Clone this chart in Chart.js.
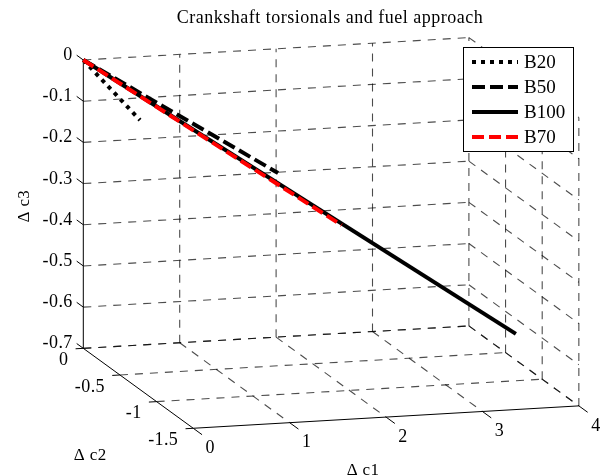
<!DOCTYPE html>
<html><head><meta charset="utf-8">
<script src="https://cdn.jsdelivr.net/npm/chart.js@4.4.0/dist/chart.umd.min.js"></script>
<style>html,body{margin:0;padding:0;background:#fff;}canvas{display:block;}</style>
</head><body>
<canvas id="c" width="605" height="476"></canvas>
<script>
// ---------- data ----------
const chartTitle = 'Crankshaft torsionals and fuel approach';
const axisTitles = ['\u0394 c1', '\u0394 c2', '\u0394 c3'];
const c1Ticks = [0, 1, 2, 3, 4];
const c2Ticks = [0, -0.5, -1, -1.5];
const c3Ticks = [0, -0.1, -0.2, -0.3, -0.4, -0.5, -0.6, -0.7];
const c1Labels = ['0', '1', '2', '3', '4'];
const c2Labels = ['0', '-0.5', '-1', '-1.5'];
const c3Labels = ['0', '-0.1', '-0.2', '-0.3', '-0.4', '-0.5', '-0.6', '-0.7'];
const seriesNames = ['B20', 'B50', 'B100', 'B70'];
const b20_c1 = [0, 0.36],  b20_c2 = [0, -0.30], b20_c3 = [0, -0.112];
const b50_c1 = [0, 1.45],  b50_c2 = [0, -0.75], b50_c3 = [0, -0.197];
const b100_c1 = [0, 3.40], b100_c2 = [0, -1.43], b100_c3 = [0, -0.526];
const b70_c1 = [0, 2.03],  b70_c2 = [0, -0.855], b70_c3 = [0, -0.318];

// ---------- view (orthographic projection of the 3-D box) ----------
const V = {ax: 96.4, bx: -73.3, ay: 5.6, by: 53.3, cz: 411.9};
const proj = (a, b, c) => ({x: V.ax * a + V.bx * b, y: V.ay * a + V.by * b + V.cz * c});
const c1Min = Math.min(...c1Ticks), c1Max = Math.max(...c1Ticks);
const c2Min = Math.min(...c2Ticks), c2Max = Math.max(...c2Ticks);
const c3Min = Math.min(...c3Ticks), c3Max = Math.max(...c3Ticks);

const datasets = [];
const seg = (p, q, style) => datasets.push(Object.assign({
  data: [proj(...p), proj(...q)], showLine: true, pointRadius: 0, tension: 0, fill: false
}, style));
const gridStyle = {borderColor: 'rgba(0,0,0,0.7)', borderWidth: 1.1, borderDash: [8, 7], order: 100};
const axisStyle = {borderColor: '#000', borderWidth: 1, order: 90};

// back wall (c2 = max)
c3Ticks.forEach(k => seg([c1Min, c2Max, k], [c1Max, c2Max, k], gridStyle));
c1Ticks.filter(j => j !== c1Min).forEach(j => seg([j, c2Max, c3Min], [j, c2Max, c3Max], gridStyle));
// right wall (c1 = max)
c3Ticks.forEach(k => seg([c1Max, c2Max, k], [c1Max, c2Min, k], gridStyle));
c2Ticks.filter(m => m !== c2Max).forEach(m => seg([c1Max, m, c3Min], [c1Max, m, c3Max], gridStyle));
// floor (c3 = min)
c1Ticks.filter(j => j !== c1Min).forEach(j => seg([j, c2Max, c3Min], [j, c2Min, c3Min], gridStyle));
c2Ticks.filter(m => m !== c2Min).forEach(m => seg([c1Min, m, c3Min], [c1Max, m, c3Min], gridStyle));
// solid axes
seg([c1Min, c2Max, c3Min], [c1Min, c2Max, c3Max], axisStyle);
seg([c1Min, c2Max, c3Min], [c1Min, c2Min, c3Min], axisStyle);
seg([c1Min, c2Min, c3Min], [c1Max, c2Min, c3Min], axisStyle);
// tick marks
c3Ticks.forEach(k => seg([c1Min, c2Max, k], [c1Min, c2Max + 0.09, k], axisStyle));
c2Ticks.forEach(m => seg([c1Min, m, c3Min], [c1Min - 0.08, m, c3Min], axisStyle));
c1Ticks.forEach(j => seg([j, c2Min, c3Min], [j, c2Min - 0.12, c3Min], axisStyle));

// series
const mk = (a, b, c) => a.map((v, i) => proj(v, b[i], c[i]));
const seriesStyles = [
  {color: '#000', width: 4, dash: [4, 5], cap: 'butt'},
  {color: '#000', width: 4, dash: [13, 5], cap: 'butt'},
  {color: '#000', width: 4, dash: [], cap: 'butt'},
  {color: '#ff0000', width: 4, dash: [12, 5], cap: 'butt'}
];
const seriesData = [mk(b20_c1, b20_c2, b20_c3), mk(b50_c1, b50_c2, b50_c3),
                    mk(b100_c1, b100_c2, b100_c3), mk(b70_c1, b70_c2, b70_c3)];
const seriesOrder = [4, 3, 2, 1];
seriesNames.forEach((n, i) => datasets.push({
  label: n, data: seriesData[i], showLine: true, pointRadius: 0, tension: 0, fill: false,
  borderColor: seriesStyles[i].color, borderWidth: seriesStyles[i].width,
  borderDash: seriesStyles[i].dash, borderCapStyle: seriesStyles[i].cap, order: seriesOrder[i]
}));

const FONT = "'Liberation Serif', 'Times New Roman', serif";

const textPlugin = {
  id: 'text3d',
  afterDraw(chart) {
    const ctx = chart.ctx, sx = chart.scales.x, sy = chart.scales.y;
    const px = (a, b, c) => { const p = proj(a, b, c); return [sx.getPixelForValue(p.x), sy.getPixelForValue(p.y)]; };
    ctx.save();
    ctx.fillStyle = '#000';
    // title
    ctx.font = '18px ' + FONT; ctx.textAlign = 'center'; ctx.textBaseline = 'middle';
    ctx.letterSpacing = '0.5px';
    ctx.fillText(chartTitle, 330, 18);
    // tick labels
    ctx.font = '18px ' + FONT;
    ctx.letterSpacing = '0.4px';
    ctx.textAlign = 'right';
    c3Ticks.forEach((k, i) => { const [x, y] = px(c1Min, c2Max + 0.09, k); ctx.fillText(c3Labels[i], x - 4, y); });
    c2Ticks.forEach((m, i) => { const [x, y] = px(c1Min, m, c3Min); ctx.fillText(c2Labels[i], x - 15, y + 12); });
    ctx.textAlign = 'center';
    c1Ticks.forEach((j, i) => { const [x, y] = px(j, c2Min, c3Min); ctx.fillText(c1Labels[i], x + 17, y + 20); });
    // axis titles
    ctx.font = '17px ' + FONT;
    let [x, y] = px((c1Min + c1Max) / 2, c2Min, c3Min);
    ctx.fillText(axisTitles[0], x - 23, y + 53);
    [x, y] = px(c1Min, (c2Min + c2Max) / 2, c3Min);
    ctx.fillText(axisTitles[1], x - 48, y + 67);
    [x, y] = px(c1Min, c2Max, (c3Min + c3Max) / 2);
    ctx.save(); ctx.translate(x - 59, y + 2); ctx.rotate(-Math.PI / 2);
    ctx.fillText(axisTitles[2], 0, 0); ctx.restore();
    // legend
    ctx.letterSpacing = '0px';
    const L = {x: 463, y: 47, w: 110, h: 104};
    ctx.fillStyle = '#fff'; ctx.fillRect(L.x, L.y, L.w, L.h);
    ctx.strokeStyle = '#000'; ctx.lineWidth = 1; ctx.strokeRect(L.x + 0.5, L.y + 0.5, L.w, L.h);
    ctx.font = '19px ' + FONT; ctx.textAlign = 'left'; ctx.fillStyle = '#000';
    seriesNames.forEach((n, i) => {
      const yy = 62 + i * 25;
      const st = seriesStyles[i];
      ctx.save();
      ctx.strokeStyle = st.color; ctx.lineWidth = st.width; ctx.setLineDash(st.dash); ctx.lineCap = st.cap;
      ctx.beginPath(); ctx.moveTo(472, yy); ctx.lineTo(518, yy); ctx.stroke();
      ctx.restore();
      ctx.fillText(n, 524, yy + 1);
    });
    ctx.restore();
  }
};

new Chart(document.getElementById('c'), {
  type: 'scatter',
  data: {datasets},
  options: {
    responsive: false, animation: false, events: [],
    layout: {padding: 0},
    plugins: {legend: {display: false}, tooltip: {enabled: false}, title: {display: false}},
    scales: {
      x: {type: 'linear', display: false, min: -83.3, max: 521.7},
      y: {type: 'linear', display: false, min: -416, max: 60}
    }
  },
  plugins: [textPlugin]
});
</script>
</body></html>
